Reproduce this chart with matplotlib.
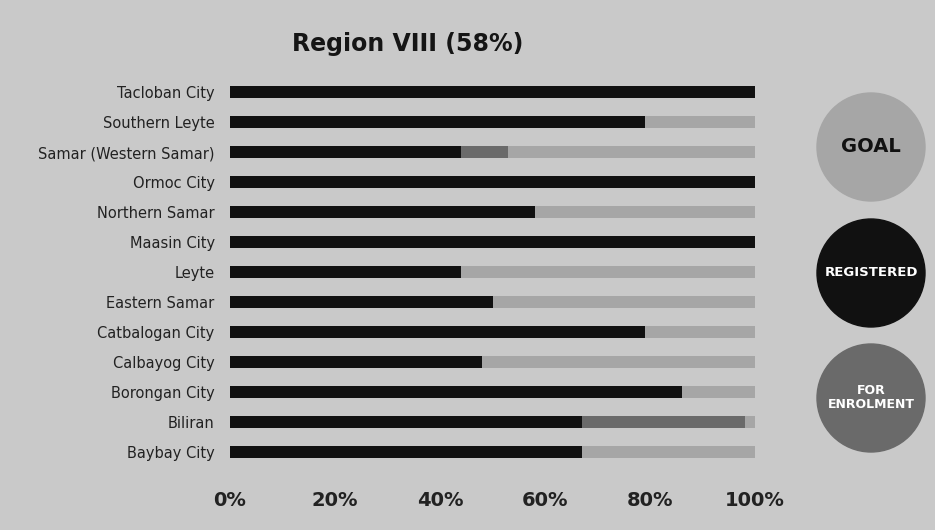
import matplotlib.pyplot as plt
from matplotlib.patches import Circle

# Data, top row first
provinces = ["Tacloban City", "Southern Leyte", "Samar (Western Samar)", "Ormoc City",
             "Northern Samar", "Maasin City", "Leyte", "Eastern Samar",
             "Catbalogan City", "Calbayog City", "Borongan City", "Biliran",
             "Baybay City"]
registered = [100, 79, 44, 100, 58, 100, 44, 50, 79, 48, 86, 67, 67]
for_enrolment = [0, 0, 9, 0, 0, 0, 0, 0, 0, 0, 0, 31, 0]
goal = [100] * len(provinces)
ticks = [0, 20, 40, 60, 80, 100]
tick_labels = ["0%", "20%", "40%", "60%", "80%", "100%"]

bg = "#c9c9c9"
c_goal = "#a6a6a6"
c_reg = "#111111"
c_enr = "#6a6a6a"

fig = plt.figure(figsize=(9.35, 5.3), dpi=100)
fig.patch.set_facecolor(bg)

# Bar area
ax = fig.add_axes([230 / 935, 1 - 470 / 530, 525 / 935, 396 / 530])
ax.set_facecolor(bg)
y = list(range(len(provinces)))
h = 0.4
ax.barh(y, goal, height=h, color=c_goal, zorder=1)
ax.barh(y, registered, height=h, color=c_reg, zorder=2)
ax.barh(y, for_enrolment, left=registered, height=h, color=c_enr, zorder=2)

ax.set_xlim(0, 100)
ax.set_ylim(len(provinces) - 0.4, -0.6)
ax.set_yticks(y)
ax.set_yticklabels(provinces, fontsize=10.5, color="#222222")
ax.set_xticks(ticks)
ax.set_xticklabels(tick_labels, fontsize=14, fontweight="bold", color="#222222")
ax.tick_params(axis="both", length=0)
ax.tick_params(axis="x", pad=15)
ax.tick_params(axis="y", pad=11)
for s in ax.spines.values():
    s.set_visible(False)

fig.text(408 / 935, 1 - 44 / 530, "Region VIII (58%)", ha="center", va="center",
         fontsize=17, fontweight="bold", color="#151515")

# Legend circles on the right
lax = fig.add_axes([0, 0, 1, 1])
lax.set_xlim(0, 935)
lax.set_ylim(530, 0)
lax.set_aspect("equal")
lax.axis("off")
lax.patch.set_alpha(0)

legend = [("GOAL", c_goal, "#111111", 147, 14),
          ("REGISTERED", c_reg, "white", 273, 9.5),
          ("FOR\nENROLMENT", c_enr, "white", 398, 9)]
for text, col, tcol, cy, fs in legend:
    lax.add_patch(Circle((871, cy), 54, color=col))
    lax.text(871, cy, text, ha="center", va="center", fontsize=fs,
             fontweight="bold", color=tcol, linespacing=1.1)

fig.savefig("out.png", dpi=100, facecolor=bg)
